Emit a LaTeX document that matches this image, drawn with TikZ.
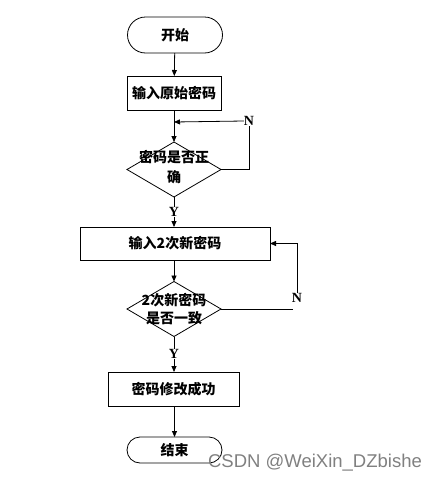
\documentclass[tikz,border=0pt]{standalone}
\usepackage{fontspec}
\setmainfont{Liberation Serif}
\newfontfamily\ynf{Liberation Serif Bold}
\newfontfamily\cjk{Noto Sans CJK SC}
\newfontfamily\wm{Liberation Sans}
\usetikzlibrary{shapes.geometric,arrows.meta}
\begin{document}
\begin{tikzpicture}[x=1pt,y=-1pt,
  every node/.style={inner sep=0pt, outer sep=0pt},
  line/.style={draw=black, line width=0.8pt},
  arr/.style={line, -{Triangle[length=6pt,width=5pt]}},
  term/.style={draw=black, line width=0.8pt, rectangle, rounded corners=#1, font=\cjk\bfseries\fontsize{14}{16}\selectfont},
  procbox/.style={draw=black, line width=0.8pt, rectangle, font=\cjk\bfseries\fontsize{14}{16}\selectfont},
  decision/.style={draw=black, line width=0.8pt, diamond, minimum width=94pt, minimum height=55pt},
  dtext/.style={align=center, font=\cjk\bfseries\fontsize{14}{18}\selectfont},
  yn/.style={font=\ynf\fontsize{14}{15}\selectfont}
]
\useasboundingbox (0,0) rectangle (436,485);
\node[term=18pt, minimum width=95pt, minimum height=36pt] (start) at (175,35) {开始};
\node[procbox, minimum width=94pt, minimum height=34pt] (b1) at (174,93) {输入原始密码};
\node[decision] (d1) at (174,169.5) {};
\node[dtext, font=\cjk\bfseries\fontsize{14}{20}\selectfont] (d1t) at (174,167) {密码是否正\\确};
\node[yn] (Y1) at (174,212) {Y};
\node[yn] (N1) at (249,121) {N};
\coordinate (j1) at (174,122);
\node[procbox, minimum width=190pt, minimum height=33pt] (b2) at (175,243.5) {输入2次新密码};
\node[decision] (d2) at (174,309) {};
\node[dtext] (d2t) at (174,309) {2次新密码\\是否一致};
\node[yn] (Y2) at (174,354) {Y};
\node[yn] (N2) at (297,298) {N};
\coordinate (c2) at (293,309);
\node[procbox, minimum width=131pt, minimum height=34pt] (b3) at (173.5,389) {密码修改成功};
\node[term=13pt, minimum width=95pt, minimum height=26pt] (end) at (174.5,450) {结束};
\node[text=black!50, font=\wm\fontsize{18.5}{20}\selectfont] (wm) at (315,463) {CSDN @WeiXin\_DZbishe};

\draw[arr] (start) -- (b1);
\draw[arr] (b1) -- (d1);
\draw[line] (d1.east) -| (N1.south);
\draw[arr] (N1.west) -- (j1);
\draw[line] (d1.south) -- (Y1.north);
\draw[arr] (Y1.south) -- (b2.north -| Y1.south);
\draw[arr] (b2.south -| d2.north) -- (d2.north);
\draw[line] (d2.east) -- (c2);
\draw[arr] (N2.north) |- (b2.east);
\draw[line] (d2.south) -- (Y2.north);
\draw[arr] (Y2.south) -- (b3.north -| Y2.south);
\draw[arr] (b3.south -| end.north) -- (end.north);
\end{tikzpicture}
\end{document}
